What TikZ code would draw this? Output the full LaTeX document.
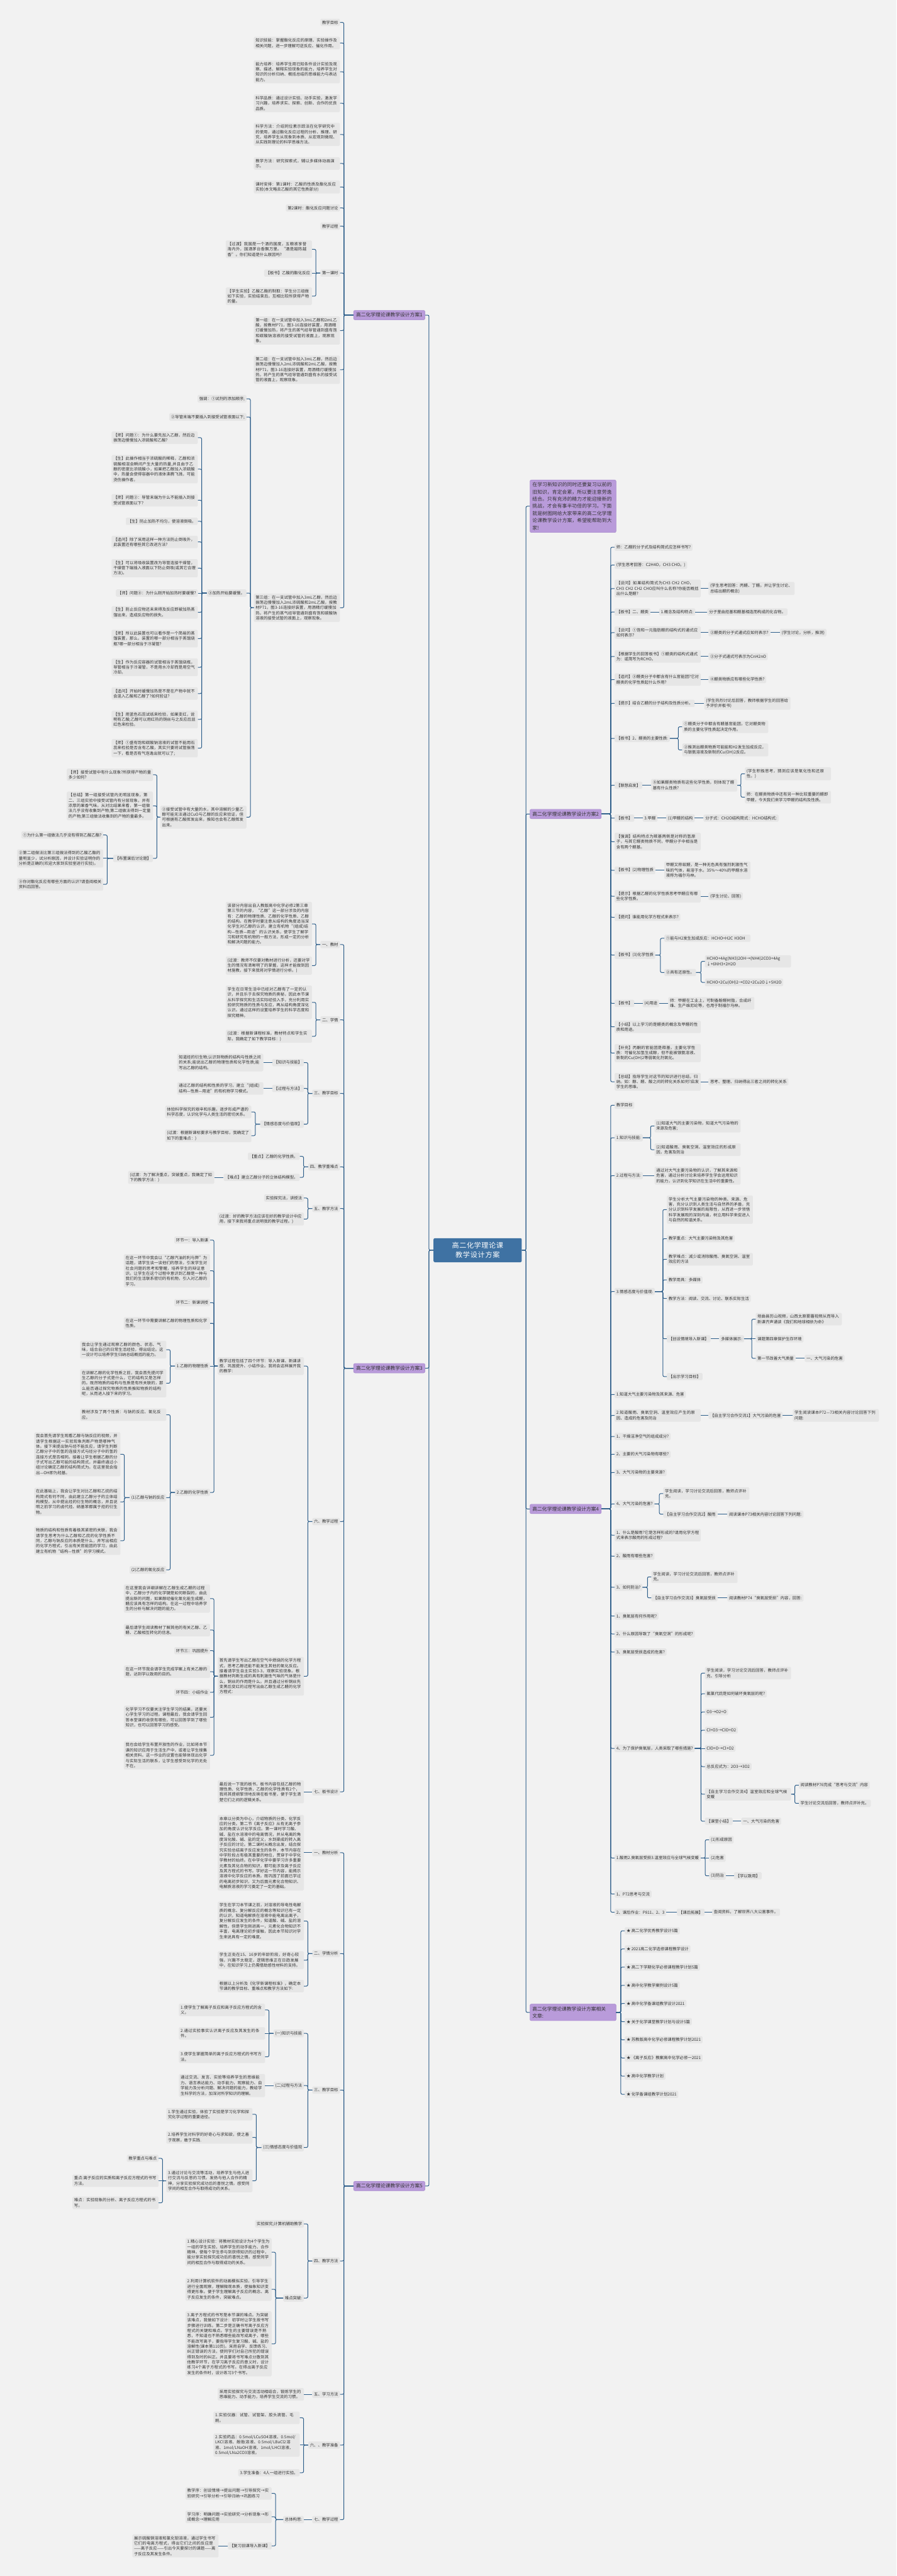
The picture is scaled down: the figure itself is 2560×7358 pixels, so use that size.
\documentclass[tikz,border=0pt]{standalone}
\usepackage{fontspec}
\setmainfont{Noto Sans CJK SC}
\XeTeXlinebreaklocale "zh"
\XeTeXlinebreakskip=0pt plus 1pt
\definecolor{bgc}{HTML}{F2F2F2}
\definecolor{leafc}{HTML}{E6E6E6}
\definecolor{topc}{HTML}{B99BDA}
\definecolor{topd}{HTML}{A384CB}
\definecolor{rootc}{HTML}{3F72A3}
\definecolor{linec}{HTML}{2D5E8A}
\definecolor{txt}{HTML}{333333}
\begin{document}
\begin{tikzpicture}[x=1pt,y=-1pt,
  leaf/.style={fill=leafc,rounded corners=3pt,inner xsep=5pt,inner ysep=5pt,text=txt,align=left,font=\fontsize{11.5}{15}\selectfont},
  wide/.style={text width=236pt},
  topic/.style={fill=topc,draw=topd,line width=0.8pt,rounded corners=4pt,inner xsep=7pt,inner ysep=7pt,text=txt,align=left,font=\fontsize{14}{20.5}\selectfont},
  root/.style={fill=rootc,rounded corners=4pt,inner xsep=10pt,inner ysep=12pt,text=white,text width=232pt,align=center,font=\fontsize{20}{26}\selectfont},
  conn/.style={draw=linec,line width=1.8pt,rounded corners=4pt}]
  \useasboundingbox (0,0) rectangle (2560,7358);
  \fill[bgc] (0,0) rectangle (2560,7358);
  % Nodo centrale
  \node[root] (root) at (1364,3571) {高二化学理论课教学设计方案};

  % Ramo sinistro: piano 1
  \node[topic,left] (p1) at (1214,900) {高二化学理论课教学设计方案1};
  \node[leaf,left] (a1) at (971,64) {教学目标};
  \node[leaf,wide,left] (a2) at (971,123) {知识技能：掌握酯化反应的原理、实验操作及相关问题，进一步理解可逆反应、催化作用。};
  \node[leaf,wide,left] (a3) at (971,205) {能力培养：培养学生用已知条件设计实验及观察、描述、解释实验现象的能力，培养学生对知识的分析归纳、概括总结的思维能力与表达能力。};
  \node[leaf,wide,left] (a4) at (971,295) {科学品质：通过设计实验、动手实验，激发学习兴趣，培养求实、探索、创新、合作的优良品质。};
  \node[leaf,wide,left] (a5) at (971,384) {科学方法：介绍同位素示踪法在化学研究中的使用，通过酯化反应过程的分析、推理、研究，培养学生从现象到本质、从宏观到微观、从实践到理论的科学思维方法。};
  \node[leaf,wide,left] (a6) at (971,467) {教学方法：研究探索式，辅以多媒体动画演示。};
  \node[leaf,wide,left] (a7) at (971,534) {课时安排：第1课时：乙酸的性质及酯化反应实验(本文略去乙酸的其它性质部分)};
  \node[leaf,left] (a8) at (971,594) {第2课时：酯化反应问题讨论};
  \node[leaf,left] (a9) at (971,646) {教学过程};
  \node[leaf,left] (a10) at (971,780) {第一课时};
  \node[leaf,wide,left] (a10a) at (891,712) {【过渡】我国是一个酒的国度，五粮液享誉海内外，国酒茅台香飘万里。“酒是越陈越香”。你们知道是什么原因吗?};
  \node[leaf,left] (a10b) at (891,780) {【板书】乙酸的酯化反应};
  \node[leaf,wide,left] (a10c) at (891,846) {【学生实验】乙酸乙酯的制取：学生分三组做如下实验，实验结束后，互相比较所获得产物的量。};
  \node[leaf,wide,left] (a11) at (971,944) {第一组：在一支试管中加入3mL乙醇和2mL乙酸，按教材P71，图3-16连接好装置，用酒精灯缓慢加热，将产生的蒸气经导管通到盛有饱和碳酸钠溶液的接受试管的液面上，观察现象。};
  \node[leaf,wide,left] (a12) at (971,1056) {第二组：在一支试管中加入3mL乙醇，然后边振荡边慢慢加入2mL浓硫酸和2mL乙酸，按教材P71，图3-16连接好装置，用酒精灯缓慢加热，将产生的蒸气经导管通到盛有水的接受试管的液面上，观察现象。};
  \node[leaf,wide,left] (a13) at (971,1736) {第三组：在一支试管中加入3mL乙醇，然后边振荡边慢慢加入2mL浓硫酸和2mL乙酸，按教材P71，图3-16连接好装置，用酒精灯缓慢加热，将产生的蒸气经导管通到盛有饱和碳酸钠溶液的接受试管的液面上，观察现象。};
  \node[leaf,left] (a13a) at (704,1139) {强调：①试剂的添加顺序;};
  \node[leaf,left] (a13b) at (704,1191) {②导管末端不要插入到接受试管液面以下;};
  \node[leaf,left] (a13c) at (704,1694) {③加热开始要缓慢。};
  \node[leaf,wide,left] (q1) at (565,1250) {【师】问题①：为什么要先加入乙醇，然后边振荡边慢慢加入浓硫酸和乙酸?};
  \node[leaf,wide,left] (q2) at (565,1340) {【生】此操作相当于浓硫酸的稀释，乙醇和浓硫酸相混会瞬间产生大量的热量,并且由于乙醇的密度比浓硫酸小，如果把乙醇加入浓硫酸中，热量会使得容器中的液体沸腾飞溅，可能烫伤操作者。};
  \node[leaf,wide,left] (q3) at (565,1429) {【师】问题②：导管末端为什么不能插入到接受试管液面以下?};
  \node[leaf,left] (q4) at (565,1489) {【生】防止加热不均匀，使溶液倒吸。};
  \node[leaf,wide,left] (q5) at (565,1548) {【追问】除了采用这样一种方法防止倒吸外，此装置还有哪些其它改进方法?};
  \node[leaf,wide,left] (q6) at (565,1623) {【生】可以将吸收装置改为导管连接干燥管，干燥管下端插入液面以下防止倒吸(或其它合理方法)。};
  \node[leaf,left] (q7) at (565,1694) {【师】问题③：为什么刚开始加热时要缓慢?};
  \node[leaf,wide,left] (q8) at (565,1749) {【生】防止反应物还未来得及反应即被加热蒸馏出来，造成反应物的损失。};
  \node[leaf,wide,left] (q9) at (565,1824) {【师】所以此装置也可以看作是一个简易的蒸馏装置，那么，装置的哪一部分相当于蒸馏烧瓶?哪一部分相当于冷凝管?};
  \node[leaf,wide,left] (q10) at (565,1906) {【生】作为反应容器的试管相当于蒸馏烧瓶，导管相当于冷凝管，不是用水冷却而是用空气冷却。};
  \node[leaf,wide,left] (q11) at (565,1981) {【追问】开始时缓慢加热是不是在产物中就不会混入乙酸和乙醇了?如何验证?};
  \node[leaf,wide,left] (q12) at (565,2055) {【生】用蓝色石蕊试纸来检验，如果变红，说明有乙酸;乙醇可以用红热的铜丝与之反应后显红色来检验。};
  \node[leaf,wide,left] (q13) at (565,2137) {【师】①盛有饱和碳酸钠溶液的试管不能用石蕊来检验是否含有乙酸，其实只要将试管振荡一下，看是否有气泡逸出就可以了;};
  \node[leaf,wide,left] (a13d) at (704,2334) {②接受试管中有大量的水，其中溶解的少量乙醇可能无法通过CuO与乙醇的反应来验证，但可根据有乙酸挥发出来，推知也会有乙醇挥发出来。};
  \node[leaf,wide,left] (r1) at (437,2213) {【师】接受试管中有什么现象?所获得产物的量多少如何?};
  \node[leaf,wide,left] (r2) at (437,2302) {【总结】第一组接受试管内无明显现象，第二、三组实验中接受试管内有分层现象，并有浓厚的果香气味。从对比结果来看，第一组做法几乎没有收集到产物;第二组做法得到一定量的产物;第三组做法收集到的产物的量最多。};
  \node[leaf,left] (r3) at (437,2452) {【布置课后讨论题】};
  \node[leaf,left] (s1) at (295,2385) {①为什么第一组做法几乎没有得到乙酸乙酯?};
  \node[leaf,wide,left] (s2) at (295,2452) {②第二组做法比第三组做法得到的乙酸乙酯的量明显少，试分析原因，并设计实验证明你的分析是正确的(欢迎大家到实验室进行实验)。};
  \node[leaf,wide,left] (s3) at (295,2526) {③你对酯化反应有哪些方面的认识?请查阅相关资料后回答。};

  % Ramo sinistro: piano 3
  \node[topic,left] (p3) at (1214,3908) {高二化学理论课教学设计方案3};
  \node[leaf,left] (b1) at (971,2698) {一、教材};
  \node[leaf,wide,left] (b1a) at (891,2639) {该部分内容出自人教版高中化学必修2第三章第三节的内容，“乙醇”这一部分涉及的内容有：乙醇的物理性质、乙醇的化学性质、乙醇的结构。在教学时要注意从结构的角度适当深化学生对乙醇的认识，建立有机物“(组成)结构—性质—用途”的认识关系，使学生了解学习和研究有机物的一般方法，形成一定的分析和解决问题的能力。};
  \node[leaf,wide,left] (b1b) at (891,2758) {(过渡：教师不仅要对教材进行分析，还要对学生的情况有清晰明了的掌握，这样才能做到因材施教，接下来我将对学情进行分析。)};
  \node[leaf,left] (b2) at (971,2913) {二、学情};
  \node[leaf,wide,left] (b2a) at (891,2863) {学生在日常生活中已经对乙醇有了一定的认识，并且乐于去探究物质的奥秘，因此本节课从科学探究和生活实际经验入手，充分利用实验研究物质的性质与反应，再从结构角度深化认识。通过这样的设置培养学生的科学态度和探究精神。};
  \node[leaf,wide,left] (b2b) at (891,2960) {(过渡：根据新课程标准，教材特点和学生实际，我确定了如下教学目标：)};
  \node[leaf,left] (b3) at (971,3123) {三、教学目标};
  \node[leaf,left] (b3a) at (868,3035) {【知识与技能】};
  \node[leaf,wide,left] (b3a1) at (752,3035) {知道烃的衍生物;认识到物质的结构与性质之间的关系;能说出乙醇的物理性质和化学性质;能写出乙醇的结构。};
  \node[leaf,left] (b3b) at (868,3109) {【过程与方法】};
  \node[leaf,wide,left] (b3b1) at (752,3109) {通过乙醇的结构和性质的学习，建立“(组成)结构—性质—用途”的有机物学习模式。};
  \node[leaf,left] (b3c) at (868,3211) {【情感态度与价值观】};
  \node[leaf,wide,left] (b3c1) at (718,3176) {体验科学探究的艰辛和乐趣，逐步形成严谨的科学态度，认识化学与人类生活的密切关系。};
  \node[leaf,wide,left] (b3c2) at (718,3244) {(过渡：根据新课标要求与教学目标，我确定了如下的重难点：)};
  \node[leaf,left] (b4) at (971,3333) {四、教学重难点};
  \node[leaf,left] (b4a) at (856,3303) {【重点】乙醇的化学性质。};
  \node[leaf,left] (b4b) at (856,3363) {【难点】建立乙醇分子的立体结构模型。};
  \node[leaf,wide,left] (b4b1) at (612,3363) {(过渡：为了解决重点，突破重点，我确定了如下的教学方法：)};
  \node[leaf,left] (b5) at (971,3452) {五、教学方法};
  \node[leaf,left] (b5a) at (868,3422) {实验探究法，讲授法};
  \node[leaf,wide,left] (b5b) at (868,3482) {(过渡：好的教学方法应该在好的教学设计中应用，接下来我将重点说明我的教学过程。)};
  \node[leaf,left] (b6) at (971,4346) {六、教学过程};
  \node[leaf,wide,left] (b6a) at (868,3902) {教学过程包括了四个环节：导入新课、新课讲授、巩固提升、小结作业。我将会这样展开我的教学：};
  \node[leaf,left] (b6a1) at (600,3542) {环节一：导入新课};
  \node[leaf,wide,left] (b6a2) at (600,3630) {在这一环节中我会以“乙醇汽油的利与弊”为话题，请学生谈一谈他们的想法，引发学生对社会问题的思考和警醒，培养学生的辩证意识。让学生在这个过程中意识到乙醇是一种与我们的生活联系密切的有机物，引入对乙醇的学习。};
  \node[leaf,left] (b6a3) at (600,3721) {环节二：新课讲授};
  \node[leaf,wide,left] (b6a4) at (600,3780) {在这一环节中需要讲解乙醇的物理性质和化学性质。};
  \node[leaf,left] (b6a5) at (600,3902) {1.乙醇的物理性质};
  \node[leaf,wide,left] (c1) at (475,3855) {我会让学生通过观察乙醇的颜色、状态、气味，结合自己的日常生活经验，得出结论。这一设计可以培养学生归纳总结概括的能力。};
  \node[leaf,wide,left] (c2) at (475,3951) {在讲解乙醇的化学性质之前，我会首先提问学生乙醇的分子式是什么，它的结构又是怎样的。既然物质的结构与性质是有所关联的，那么能否通过探究物质的性质推知物质的结构呢，从而进入接下来的学习。};
  \node[leaf,left] (b6a6) at (600,4263) {2.乙醇的化学性质};
  \node[leaf,wide,left] (d1) at (475,4041) {教材涉及了两个性质：与钠的反应、氧化反应。};
  \node[leaf,left] (d2) at (475,4278) {(1)乙醇与钠的反应};
  \node[leaf,wide,left] (e1) at (344,4154) {我会首先请学生观看乙醇与钠反应的视频，并请学生根据这一实验现象判断产物是哪种气体。接下来提出钠与烃不能反应，请学生判断乙醇分子中的氢的连接方式与烃分子中的氢的连接方式是否相同。接着让学生根据乙醇的分子式写出乙醇可能的结构简式，并最终通过小组讨论确定乙醇的结构简式为。在这里我会指出—OH即为羟基。};
  \node[leaf,wide,left] (e2) at (344,4290) {在此基础上，我会让学生对比乙醇和乙烷的结构简式有何不同，由此建立乙醇分子的立体结构模型。从中提出烃的衍生物的概念，并且说明之前学习的卤代烃、硝基苯都属于烃的衍生物。};
  \node[leaf,wide,left] (e3) at (344,4401) {物质的结构和性质有着极其紧密的关联，我会请学生思考为什么乙醇和乙烷的化学性质不同，乙醇与钠反应的本质是什么，并写出相应的化学方程式，引出有关官能团的学习，由此建立有机物“结构—性质”的学习模式。};
  \node[leaf,left] (d3) at (475,4484) {(2)乙醇的氧化反应};
  \node[leaf,wide,left] (b6b) at (868,4788) {首先请学生写出乙醇在空气中燃烧的化学方程式，思考乙醇还能不能发生其他的氧化反应。接着请学生自主实验3-3，观察实验现象。根据教材判断生成的具有刺激性气味的气体是什么，铜丝的作用是什么。并且通过分析铜丝先变黑后变红的过程写出由乙醇生成乙醛的化学方程式：};
  \node[leaf,wide,left] (f1) at (600,4566) {在这里我会详细讲解在乙醇生成乙醛的过程中，乙醇分子内的化学键是如何断裂的，由此提出新的问题，如果醇经催化氧化能生成醛，醛应该具有怎样的结构。在这一过程中培养学生的分析与解决问题的能力。};
  \node[leaf,wide,left] (f2) at (600,4656) {最后请学生阅读教材了解其他的有关乙醇、乙醛、乙酸相互转化的信息。};
  \node[leaf,left] (f3) at (600,4715) {环节三：巩固提升};
  \node[leaf,wide,left] (f4) at (600,4775) {在这一环节我会请学生完成学案上有关乙醇的题，达到学以致用的目的。};
  \node[leaf,left] (f5) at (600,4834) {环节四：小结作业};
  \node[leaf,wide,left] (f6) at (600,4905) {化学学习不仅要关注学生学习的结果，还要关心学生学习的过程。课程最后，我会请学生回答本堂课的收获有哪些，可以回答学到了哪些知识，也可以回答学习的感受。};
  \node[leaf,wide,left] (f7) at (600,5014) {我也会给学生布置开放性的作业，比如将本节课的知识应用于生活生产中，或者让学生搜集相关资料。这一作业的设置也能够体现出化学与实际生活的联系，让学生感受到化学的无处不在。};
  \node[leaf,left] (b7) at (971,5118) {七、板书设计};
  \node[leaf,wide,left] (b7a) at (868,5118) {最后说一下我的板书，板书内容包括乙醇的物理性质、化学性质，乙醇的化学性质有2个，我将其提纲挈领地反映在板书里，便于学生清楚它们之间的逻辑关系。};

  % Ramo sinistro: piano 5
  \node[topic,left] (p5) at (1214,6244) {高二化学理论课教学设计方案5};
  \node[leaf,left] (g1) at (971,5292) {一、教材分析};
  \node[leaf,wide,left] (g1a) at (868,5292) {本章以分类为中心，介绍物质的分类、化学反应的分类。第二节《离子反应》从有无离子参加的角度认识化学反应。第一课时学习酸、碱、盐在水溶液中的电离情况，并从电离的角度深化酸、碱、盐的定义，水到渠成的转入离子反应的讨论。第二课时从概念出发，结合探究实验总结离子反应发生的条件，本节内容在中学阶段占有极其重要的地位，贯穿于中学化学教材的始终。在中学化学中要学习许多重要元素及其化合物的知识，都可能涉及离子反应及其方程式的书写。学好这一节内容，能揭示溶液中化学反应的本质。既巩固了前面已学过的电离初步知识，又为后面元素化合物知识、电解质溶液的学习奠定了一定的基础。};
  \node[leaf,left] (g2) at (971,5580) {二、学情分析};
  \node[leaf,wide,left] (g2a) at (868,5487) {学生在学习本节课之前，对溶液的导电性电解质的概念、复分解反应的概念等知识已有一定的认识，知道电解质在溶液中能电离出离子，复分解反应发生的条件，知道酸、碱、盐的溶解性。但是学生刚进高一，元素化合物知识不丰富，电离理论初步接触，因此本节知识对学生来说具有一定的难度。};
  \node[leaf,wide,left] (g2b) at (868,5599) {学生正处在15、16岁的年龄阶段，好奇心较强，兴趣不太稳定，逻辑思维正在日趋发展中，在知识学习上仍需借助感性材料的支持。};
  \node[leaf,wide,left] (g2c) at (868,5673) {根据以上分析及《化学新课程标准》，确定本节课的教学目标、重难点和教学方法如下:};
  \node[leaf,left] (g3) at (971,5970) {三、教学目标};
  \node[leaf,left] (g3a) at (868,5808) {(一)知识与技能};
  \node[leaf,wide,left] (g3a1) at (757,5741) {1.使学生了解离子反应和离子反应方程式的含义。};
  \node[leaf,wide,left] (g3a2) at (757,5808) {2.通过实验事实认识离子反应及其发生的条件。};
  \node[leaf,wide,left] (g3a3) at (757,5875) {3.使学生掌握简单的离子反应方程式的书写方法。};
  \node[leaf,left] (g3b) at (868,5957) {(二)过程与方法};
  \node[leaf,wide,left] (g3b1) at (757,5957) {通过交流、发言、实验等培养学生的思维能力、语言表达能力、动手能力，观察能力、自学能力及分析问题、解决问题的能力，教给学生科学的方法，加深对所学知识的理解。};
  \node[leaf,left] (g3c) at (868,6134) {(三)情感态度与价值观};
  \node[leaf,wide,left] (g3c1) at (721,6039) {1.学生通过实验，体验了实验是学习化学和探究化学过程的重要途径。};
  \node[leaf,wide,left] (g3c2) at (721,6105) {2.培养学生对科学的好奇心与求知欲，使之善于观察，敢于实践.};
  \node[leaf,wide,left] (g3c3) at (721,6229) {3.通过讨论与交流等活动，培养学生与他人进行交流与反思的习惯。发扬与他人合作的精神，分享实验探究成功后的喜悦之情。感受同学间的相互合作与取得成功的关系。};
  \node[leaf,left] (h1) at (453,6165) {教学重点与难点};
  \node[leaf,wide,left] (h2) at (453,6229) {重点:离子反应的实质和离子反应方程式的书写方法。};
  \node[leaf,wide,left] (h3) at (453,6292) {难点：实验现象的分析、离子反应方程式的书写。};
  \node[leaf,left] (g4) at (971,6458) {四、教学方法};
  \node[leaf,left] (g4a) at (868,6352) {实验探究;计算机辅助教学};
  \node[leaf,left] (g4b) at (868,6564) {难点突破:};
  \node[leaf,wide,left] (g4b1) at (776,6433) {1.精心设计实验：将教材实验设计为4个学生为一组的学生实验，培养学生的动手能力、合作精神。使每个学生参与到获得知识的过程中，能分享实验探究成功后的喜悦之情。感受同学间的相互合作与取得成功的关系。};
  \node[leaf,wide,left] (g4b2) at (776,6539) {2.利用计算机软件的动画模拟实验，引导学生进行全面观察，理解微观本质，使抽象知识变得更形象。便于学生理解离子反应的概念、离子反应发生的条件，突破难点。};
  \node[leaf,wide,left] (g4b3) at (776,6695) {3.离子方程式的书写是本节课的难点。为突破该难点，我做如下设计：初学时让学生按书写步骤进行训练。第二步是正确书写离子反应方程式的关键和难点。学生的主要错误是不熟悉，不知道也不熟悉哪些能改写成离子，哪些不能改写离子，要指导学生复习酸、碱、盐的溶解性(课本第110页)。采用自学、反馈练习、纠正错误的方法，使同学们对自己所犯的错误得到及时的纠正。并且要将书写难点分散到其他教学环节，在学习离子反应的意义时，设计练习4个离子方程式的书写。在得出离子反应发生的条件时，设计练习3个书写。};
  \node[leaf,left] (g5) at (971,6839) {五、学习方法};
  \node[leaf,wide,left] (g5a) at (868,6839) {采用实验探究与交流活动相结合，锻炼学生的思维能力、动手能力，培养学生交流的习惯。};
  \node[leaf,left] (g6) at (971,6984) {六、、教学准备};
  \node[leaf,wide,left] (g6a) at (856,6906) {1.实验仪器：试管、试管架、胶头滴管、毛刷。};
  \node[leaf,wide,left] (g6b) at (856,6984) {2.实验药品：0.5mol/LCuSO4溶液、0.5mol/LKCl溶液、酚酞溶液、0.5mol/LBaCl2溶液、1mol/LNaOH溶液、1mol/LHCl溶液、0.5mol/LNa2CO3溶液。};
  \node[leaf,left] (g6c) at (856,7063) {3.学生准备：4人一组进行实验。};
  \node[leaf,left] (g7) at (971,7197) {七、教学过程};
  \node[leaf,left] (g7a) at (868,7197) {总体构思:};
  \node[leaf,wide,left] (g7a1) at (776,7122) {教学序：创设情境→提出问题→引导探究→实验研究→引导分析→引导归纳→巩固练习};
  \node[leaf,wide,left] (g7a2) at (776,7189) {学习序：明确问题→实验研究→分析现象→形成概念→理解应用};
  \node[leaf,left] (g7a3) at (776,7272) {【复习旧课导入新课】};
  \node[leaf,wide,left] (g7a3a) at (624,7272) {展示硫酸铜溶液和氯化钡溶液，通过学生书写它们的电离方程式，得出它们之间的反应是——离子反应——引出今天要探讨的课题——离子反应及其发生条件。};

  % Ramo destro: introduzione
  \node[topic,right,text width=232pt] (intro) at (1513,1446) {在学习新知识的同时还要复习以前的旧知识，肯定会累，所以要注意劳逸结合。只有充沛的精力才能迎接新的挑战，才会有事半功倍的学习。下面就是树图网给大家带来的高二化学理论课教学设计方案，希望能帮助到大家!};

  % Ramo destro: piano 2
  \node[topic,right] (p2) at (1513,2325) {高二化学理论课教学设计方案2};
  \node[leaf,right] (k1) at (1755,1563) {师：乙醛的分子式及结构简式应怎样书写?};
  \node[leaf,right] (k2) at (1755,1614) {(学生思考回答：C2H4O，CH3 CHO。)};
  \node[leaf,wide,right] (k3) at (1755,1681) {【设问】如果结构简式为CH3 CH2 CHO，CH3 CH2 CH2 CHO应叫什么名称?你能否概括出什么是醛?};
  \node[leaf,wide,right] (k3a) at (2023,1681) {(学生思考回答：丙醛、丁醛。并让学生讨论、总结出醛的概念)};
  \node[leaf,right] (k4) at (1755,1748) {【板书】二、醛类};
  \node[leaf,right] (k4a) at (1882,1748) {1.概念及结构特点:};
  \node[leaf,right] (k4b) at (2020,1748) {分子里由烃基和醛基相连而构成的化合物。};
  \node[leaf,wide,right] (k5) at (1755,1807) {【设问】①饱和一元脂肪醛的结构式的通式应如何表示?};
  \node[leaf,right] (k5a) at (2023,1807) {②醛类的分子式通式应如何表示?};
  \node[leaf,right] (k5b) at (2227,1807) {(学生讨论，分析，推测)};
  \node[leaf,wide,right] (k6) at (1755,1875) {【根据学生的回答板书】①醛类的结构式通式为：或简写为RCHO。};
  \node[leaf,right] (k6a) at (2023,1875) {②分子式通式可表示为CnH2nO};
  \node[leaf,wide,right] (k7) at (1755,1941) {【追问】③醛类分子中都含有什么官能团?它对醛类的化学性质起什么作用?};
  \node[leaf,right] (k7a) at (2023,1941) {④醛类物质应有哪些化学性质?};
  \node[leaf,right] (k8) at (1755,2009) {【提示】结合乙醛的分子结构及性质分析。};
  \node[leaf,wide,right] (k8a) at (2011,2009) {(学生热烈讨论后回答，教师根据学生的回答给予评价并板书)};
  \node[leaf,right] (k9) at (1755,2109) {【板书】2、醛类的主要性质:};
  \node[leaf,wide,right] (k9a) at (1948,2076) {①醛类分子中都含有醛基官能团，它对醛类物质的主要化学性质起决定作用。};
  \node[leaf,wide,right] (k9b) at (1948,2142) {②推测出醛类物质可能能和H2发生加成反应，与银氨溶液及新制的Cu(OH)2反应。};
  \node[leaf,right] (k10) at (1755,2243) {【联想启发】};
  \node[leaf,wide,right] (k10a) at (1859,2243) {⑤如果醛类物质有这些化学性质，则体现了醛基有什么性质?};
  \node[leaf,wide,right] (k10b) at (2127,2210) {(学生积极思考，猜测应该是氧化性和还原性。)};
  \node[leaf,wide,right] (k10c) at (2127,2277) {师：在醛类物质中还有另一种比较重要的醛即甲醛，今天我们来学习甲醛的结构及性质。};
  \node[leaf,right] (k11) at (1755,2337) {【板书】};
  \node[leaf,right] (k11a) at (1835,2337) {3.甲醛};
  \node[leaf,right] (k11b) at (1902,2337) {(1)甲醛的结构};
  \node[leaf,right] (k11c) at (2009,2337) {分子式：CH2O结构简式：HCHO结构式:};
  \node[leaf,wide,right] (k12) at (1755,2404) {【强调】结构特点为羰基两侧是对称的氢原子，与其它醛类物质不同，甲醛分子中相当是含有两个醛基。};
  \node[leaf,right] (k13) at (1755,2486) {【板书】(2)物理性质};
  \node[leaf,wide,right] (k13a) at (1897,2486) {甲醛又称蚁醛，是一种无色具有强烈刺激性气味的气体，易溶于水。35\%～40\%的甲醛水溶液称为福尔马林。};
  \node[leaf,wide,right] (k14) at (1755,2560) {【提示】根据乙醛的化学性质思考甲醛应有哪些化学性质。};
  \node[leaf,right] (k14a) at (2023,2560) {(学生讨论、回答)};
  \node[leaf,right] (k15) at (1755,2620) {【提问】谁能用化学方程式来表示?};
  \node[leaf,right] (k16) at (1755,2728) {【板书】(3)化学性质};
  \node[leaf,wide,right] (k16a) at (1897,2680) {①能与H2发生加成反应：HCHO+H2C H3OH};
  \node[leaf,right] (k16b) at (1897,2778) {②具有还原性。};
  \node[leaf,wide,right] (k16c) at (2013,2746) {HCHO+4Ag(NH3)2OH→(NH4)2CO3+4Ag\\↓+6NH3+2H2O};
  \node[leaf,right] (k16d) at (2013,2806) {HCHO+2Cu(OH)2→CO2+2Cu2O↓+5H2O};
  \node[leaf,right] (k17) at (1755,2866) {【板书】};
  \node[leaf,right] (k17a) at (1835,2866) {(4)用途};
  \node[leaf,wide,right] (k17b) at (1908,2866) {师：甲醛在工业上，可制备酚醛树脂，合成纤维、生产维尼纶等，也用于制福尔马林。};
  \node[leaf,wide,right] (k18) at (1755,2933) {【小结】以上学习的是醛类的概念及甲醛的性质和用途。};
  \node[leaf,wide,right] (k19) at (1755,3008) {【补充】丙酮的官能团是羰基，主要化学性质：可催化加氢生成醇，但不能被银氨溶液、新制的Cu(OH)2等弱氧化剂氧化。};
  \node[leaf,wide,right] (k20) at (1755,3090) {【总结】指导学生对这节的知识进行总结，归纳。如：醇、醛、酸之间的转化关系如何?启发学生的思维。};
  \node[leaf,right] (k20a) at (2023,3090) {思考、整理、归纳得出三者之间的转化关系};

  % Ramo destro: piano 4
  \node[topic,right] (p4) at (1513,4310) {高二化学理论课教学设计方案4};
  \node[leaf,right] (m1) at (1755,3157) {教学目标};
  \node[leaf,right] (m2) at (1755,3250) {1.知识与技能:};
  \node[leaf,wide,right] (m2a) at (1869,3216) {(1)知道大气的主要污染物，知道大气污染物的来源及危害;};
  \node[leaf,wide,right] (m2b) at (1869,3284) {(2)知道酸雨、臭氧空洞、温室效应的形成原因，危害及防治};
  \node[leaf,right] (m3) at (1755,3358) {2.过程与方法:};
  \node[leaf,wide,right] (m3a) at (1869,3358) {通过对大气主要污染物的认识，了解其来源和危害，通过分析讨论来培养学生学会运用知识的能力，认识到化学知识在生活中的重要性。};
  \node[leaf,right] (m4) at (1755,3689) {3.情感态度与价值观:};
  \node[leaf,wide,right] (m4a) at (1904,3455) {学生分析大气主要污染物的种类、来源、危害，充分认识到人类生活与自然界的矛盾，充分认识到科学发展的局限性，从而进一步领悟科学发展观的深刻内涵，树立用科学来促进人与自然的和谐关系。};
  \node[leaf,right] (m4b) at (1904,3538) {教学重点：大气主要污染物及其危害};
  \node[leaf,wide,right] (m4c) at (1904,3597) {教学难点：减少或消除酸雨、臭氧空洞、温室效应的方法};
  \node[leaf,right] (m4d) at (1904,3656) {教学用具：多媒体};
  \node[leaf,right] (m4e) at (1904,3709) {教学方法：阅读、交流、讨论、联系实际生活};
  \node[leaf,right] (m4f) at (1904,3824) {【创设情境导入新课】};
  \node[leaf,right] (m4g) at (2054,3824) {多媒体展示:};
  \node[leaf,wide,right] (m4h) at (2158,3768) {垣曲县历山视频，山西太原雾霾视频从而导入新课齐声诵读《我们和地球相依为命》};
  \node[leaf,right] (m4i) at (2158,3824) {课题第四章保护生存环境};
  \node[leaf,right] (m4j) at (2158,3880) {第一节改善大气质量};
  \node[leaf,right] (m4k) at (2298,3880) {一、大气污染的危害};
  \node[leaf,right] (m4l) at (1904,3932) {【出示学习目标】};
  \node[leaf,right] (m5) at (1755,3983) {1.知道大气主要污染物及其来源、危害};
  \node[leaf,wide,right] (m6) at (1755,4043) {2.知道酸雨、臭氧空洞、温室效应产生的原因、造成的危害及防治};
  \node[leaf,right] (m6a) at (2023,4043) {【自主学习合作交流1】大气污染的危害};
  \node[leaf,wide,right] (m6b) at (2264,4043) {学生阅读课本P72—73相关内容讨论回答下列问题:};
  \node[leaf,right] (m7) at (1755,4103) {1、干燥洁净空气的组成成分?};
  \node[leaf,right] (m8) at (1755,4154) {2、主要的大气污染物有哪些?};
  \node[leaf,right] (m9) at (1755,4206) {3、大气污染物的主要来源?};
  \node[leaf,right] (m10) at (1755,4296) {4、大气污染的危害?};
  \node[leaf,wide,right] (m10a) at (1894,4266) {学生阅读，学习讨论交流后回答，教师点评补充。};
  \node[leaf,right] (m10b) at (1894,4325) {【自主学习合作交流2】酸雨};
  \node[leaf,right] (m10c) at (2077,4325) {阅读课本P73相关内容讨论回答下列问题:};
  \node[leaf,wide,right] (m11) at (1755,4385) {1、什么是酸雨?它是怎样形成的?请用化学方程式来表示酸雨的形成过程?};
  \node[leaf,right] (m12) at (1755,4445) {2、酸雨有哪些危害?};
  \node[leaf,right] (m13) at (1755,4534) {3、如何防治?};
  \node[leaf,wide,right] (m13a) at (1860,4504) {学生阅读，学习讨论交流后回答，教师点评补充。};
  \node[leaf,right] (m13b) at (1860,4564) {【自主学习合作交流3】臭氧层受损};
  \node[leaf,right] (m13c) at (2077,4564) {阅读教材P74“臭氧层受损”内容，回答:};
  \node[leaf,right] (m14) at (1755,4616) {1、臭氧层有何作用呢?};
  \node[leaf,right] (m15) at (1755,4667) {2、什么原因导致了“臭氧空洞”的形成呢?};
  \node[leaf,right] (m16) at (1755,4719) {3、臭氧层受损造成的危害?};
  \node[leaf,right] (m17) at (1755,4994) {4、为了保护臭氧层，人类采取了哪些措施?};
  \node[leaf,wide,right] (n1) at (2013,4779) {学生阅读，学习讨论交流后回答，教师点评补充、引导分析};
  \node[leaf,right] (n2) at (2013,4838) {氟氯代烷是如何破坏臭氧层的呢?};
  \node[leaf,right] (n3) at (2013,4890) {O3→O2+O};
  \node[leaf,right] (n4) at (2013,4942) {Cl+O3→ClO+O2};
  \node[leaf,right] (n5) at (2013,4994) {ClO+O→Cl+O2};
  \node[leaf,right] (n6) at (2013,5046) {总反应式为：2O3→3O2};
  \node[leaf,wide,right] (n7) at (2013,5125) {【自主学习合作交流4】温室效应和全球气候变暖};
  \node[leaf,right] (n7a) at (2281,5099) {阅读教材P76完成“思考与交流”内容};
  \node[leaf,right] (n7b) at (2281,5151) {学生讨论交流后回答，教师点评补充。};
  \node[leaf,right] (n8) at (2013,5202) {【课堂小结】};
  \node[leaf,right] (n8a) at (2117,5202) {一、大气污染的危害};
  \node[leaf,wide,right] (m18) at (1755,5307) {1.酸雨2.臭氧层受损3.温室效应与全球气候变暖};
  \node[leaf,right] (m18a) at (2025,5255) {(1)形成原因};
  \node[leaf,right] (m18b) at (2025,5307) {(2)危害};
  \node[leaf,right] (m18c) at (2025,5358) {(3)防治};
  \node[leaf,right] (m18d) at (2096,5358) {【学以致用】};
  \node[leaf,right] (m19) at (1755,5410) {1、P72思考与交流};
  \node[leaf,right] (m20) at (1755,5462) {2、课后作业：P811、2、3};
  \node[leaf,right] (m20a) at (1933,5462) {【课后拓展】};
  \node[leaf,right] (m20b) at (2033,5462) {查阅资料，了解世界八大公害事件。};

  % Ramo destro: articoli correlati
  \node[topic,right,text width=232pt] (rel) at (1513,5748) {高二化学理论课教学设计方案相关\\文章:};
  \foreach \txt [count=\i] in {高二化学优秀教学设计5篇, 2021高二化学选修课程教学设计, 高二下学期化学必修课程教学计划5篇, 高中化学教学案例设计5篇, 高中化学备课组教学设计2021, 关于化学课堂教学计划与设计5篇, 苏教版高中化学必修课程教学计划2021, 《离子反应》教案高中化学必修一2021, 高中化学教学计划, 化学备课组教学计划2021}
    \node[leaf,right] (t\i) at (1784,{5515+51.9*(\i-1)}) {★ \txt};

  % Collegamenti a sinistra
  \foreach \p/\q in {root/p1, root/p3, root/p5,
    p1/a1, p1/a2, p1/a3, p1/a4, p1/a5, p1/a6, p1/a7, p1/a8, p1/a9, p1/a10, p1/a11, p1/a12, p1/a13,
    a10/a10a, a10/a10c, a13/a13a, a13/a13b, a13/a13c, a13/a13d,
    a13c/q1, a13c/q2, a13c/q3, a13c/q4, a13c/q5, a13c/q6, a13c/q8, a13c/q9, a13c/q10, a13c/q11, a13c/q12, a13c/q13,
    a13d/r1, a13d/r2, a13d/r3, r3/s1, r3/s3,
    p3/b1, p3/b2, p3/b3, p3/b4, p3/b5, p3/b6, p3/b7,
    b1/b1a, b1/b1b, b2/b2a, b2/b2b, b3/b3a, b3/b3b, b3/b3c, b3c/b3c1, b3c/b3c2,
    b4/b4a, b4/b4b, b5/b5a, b5/b5b, b6/b6a, b6/b6b,
    b6a/b6a1, b6a/b6a2, b6a/b6a3, b6a/b6a4, b6a/b6a6,
    b6a5/c1, b6a5/c2, b6a6/d1, b6a6/d2, b6a6/d3, d2/e1, d2/e2, d2/e3,
    b6b/f1, b6b/f2, b6b/f3, b6b/f4, b6b/f5, b6b/f6, b6b/f7,
    p5/g1, p5/g2, p5/g3, p5/g4, p5/g5, p5/g6, p5/g7,
    g2/g2a, g2/g2b, g2/g2c, g3/g3a, g3/g3b, g3/g3c, g3a/g3a1, g3a/g3a3,
    g3c/g3c1, g3c/g3c2, g3c/g3c3, g3c3/h1, g3c3/h3,
    g4/g4a, g4/g4b, g4b/g4b1, g4b/g4b2, g4b/g4b3,
    g6/g6a, g6/g6c, g7a/g7a1, g7a/g7a2, g7a/g7a3}
    \draw[conn] (\q.east) -- ++(11,0) |- (\p.west);
  \foreach \p/\q in {a10/a10b, a13c/q7, r3/s2, b3a/b3a1, b3b/b3b1, b4b/b4b1, b6a/b6a5, b7/b7a,
    g1/g1a, g3a/g3a2, g3b/g3b1, g3c3/h2, g5/g5a, g6/g6b, g7/g7a, g7a3/g7a3a}
    \draw[conn] (\q.east) -- (\p.west);

  % Collegamenti a destra
  \foreach \p/\q in {root/intro, root/p2, root/p4, root/rel,
    p2/k1, p2/k2, p2/k3, p2/k4, p2/k5, p2/k6, p2/k7, p2/k8, p2/k9, p2/k10,
    p2/k11, p2/k12, p2/k13, p2/k14, p2/k15, p2/k16, p2/k17, p2/k18, p2/k19, p2/k20,
    k9/k9a, k9/k9b, k10a/k10b, k10a/k10c, k16/k16a, k16/k16b, k16b/k16c, k16b/k16d,
    p4/m1, p4/m2, p4/m3, p4/m4, p4/m5, p4/m6, p4/m7, p4/m8, p4/m9, p4/m10,
    p4/m11, p4/m12, p4/m13, p4/m14, p4/m15, p4/m16, p4/m17, p4/m18, p4/m19, p4/m20,
    m2/m2a, m2/m2b, m4/m4a, m4/m4b, m4/m4c, m4/m4d, m4/m4e, m4/m4f, m4/m4l,
    m4g/m4h, m4g/m4j, m10/m10a, m10/m10b, m13/m13a, m13/m13b,
    m17/n1, m17/n2, m17/n3, m17/n4, m17/n6, m17/n7, m17/n8, n7/n7a, n7/n7b,
    m18/m18a, m18/m18c,
    rel/t1, rel/t2, rel/t3, rel/t4, rel/t5, rel/t6, rel/t7, rel/t8, rel/t9, rel/t10}
    \draw[conn] (\q.west) -- ++(-11,0) |- (\p.east);
  \foreach \p/\q in {k3/k3a, k4/k4a, k4a/k4b, k5/k5a, k5a/k5b, k6/k6a, k7/k7a, k8/k8a,
    k10/k10a, k11/k11a, k11a/k11b, k11b/k11c, k13/k13a, k14/k14a, k17/k17a, k17a/k17b, k20/k20a,
    m3/m3a, m4f/m4g, m4g/m4i, m4j/m4k, m6/m6a, m6a/m6b, m10b/m10c, m13b/m13c,
    m17/n5, n8/n8a, m18/m18b, m18c/m18d, m20/m20a, m20a/m20b}
    \draw[conn] (\q.west) -- (\p.east);
\end{tikzpicture}
\end{document}
